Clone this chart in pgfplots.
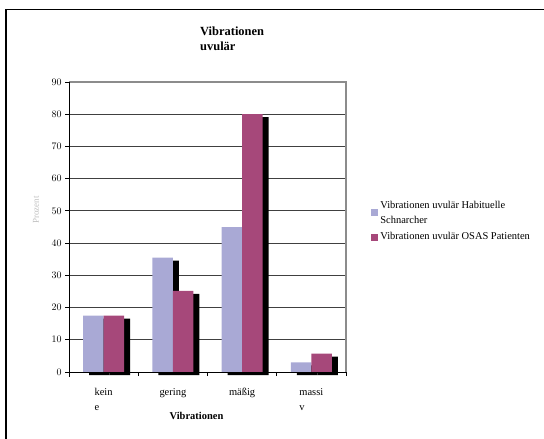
\documentclass[border=0pt]{standalone}
\usepackage{pgfplots}
\pgfplotsset{compat=1.18}
\usepackage{fontspec}
\setmainfont{Liberation Serif}
\definecolor{lav}{HTML}{A9A9D5}
\definecolor{plum}{HTML}{A6487A}
\begin{document}
\begin{tikzpicture}[x=1bp,y=1bp]
\path[use as bounding box] (0,0) rectangle (544,-439);
\draw[line width=1.3bp] (6,-445) -- (6,-9.5) -- (550,-9.5);
\node[anchor=north west,align=left,font=\fontsize{12.5}{14.5}\selectfont\bfseries,inner sep=0pt] at (200,-27) {Vibrationen\\uvulär};
\node[rotate=90,text=gray!50,font=\fontsize{9}{9}\selectfont] at (36,-210) {Prozent};
\begin{axis}[
  at={(69bp,-372bp)}, anchor=south west,
  scale only axis, width=277bp, height=290bp,
  ymin=0, ymax=90, ytick={0,10,...,90},
  xmin=-0.5, xmax=3.5,
  xtick={0,1,2,3},
  xticklabels={{kein\\e},gering,mäßig,{massi\\v}},
  xticklabel style={align=left, yshift=-9bp, font=\fontsize{10.5}{15}\selectfont},
  major x tick style={draw=none},
  minor xtick={-0.5,0.5,1.5,2.5,3.5},
  minor x tick style={black, line width=0.8bp},
  minor tick length=4bp,
  major tick length=4bp,
  tick align=outside,
  ytick style={black, line width=0.8bp},
  yticklabel style={font=\fontsize{10}{10}\selectfont},
  ymajorgrids, grid style={black!75, line width=0.8bp},
  axis line style={draw=none},
  axis y line*=left, axis x line*=bottom,
  bar width=20.5bp,
  xlabel={\textbf{Vibrationen}},
  xlabel style={font=\fontsize{10.5}{10}\selectfont, yshift=5bp, xshift=-11bp},
  legend style={at={(1.08,0.52)}, anchor=west, draw=none, fill=none,
    font=\fontsize{10.5}{15}\selectfont, cells={align=left}, row sep=4bp},
  legend cell align=left,
  legend image code/.code={\fill[#1] (0bp,-3.5bp) rectangle (7bp,3.5bp);},
  clip=false,
]
\addplot[ybar, bar shift=-10.25bp, fill=lav, draw=none, forget plot,
  preaction={fill=black, transform canvas={xshift=6bp, yshift=-3bp}}]
  coordinates {(0,17.5) (1,35.5) (2,45) (3,3)};
\addplot[ybar, bar shift=10.25bp, fill=plum, draw=none, forget plot,
  preaction={fill=black, transform canvas={xshift=6bp, yshift=-3bp}}]
  coordinates {(0,17.5) (1,25.2) (2,80) (3,5.7)};
\addlegendimage{fill=lav, draw=none}
\addlegendentry{Vibrationen uvulär Habituelle\\Schnarcher}
\addlegendimage{fill=plum, draw=none}
\addlegendentry{Vibrationen uvulär OSAS Patienten}
\draw[gray!90, line width=1.2bp] (axis cs:-0.5,90) -- (axis cs:3.5,90) -- (axis cs:3.5,0);
\draw[black, line width=0.9bp] (axis cs:-0.5,0) -- (axis cs:3.5,0);
\draw[black, line width=0.9bp] (axis cs:-0.5,-1.5) -- (axis cs:-0.5,90);
\end{axis}
\end{tikzpicture}
\end{document}
